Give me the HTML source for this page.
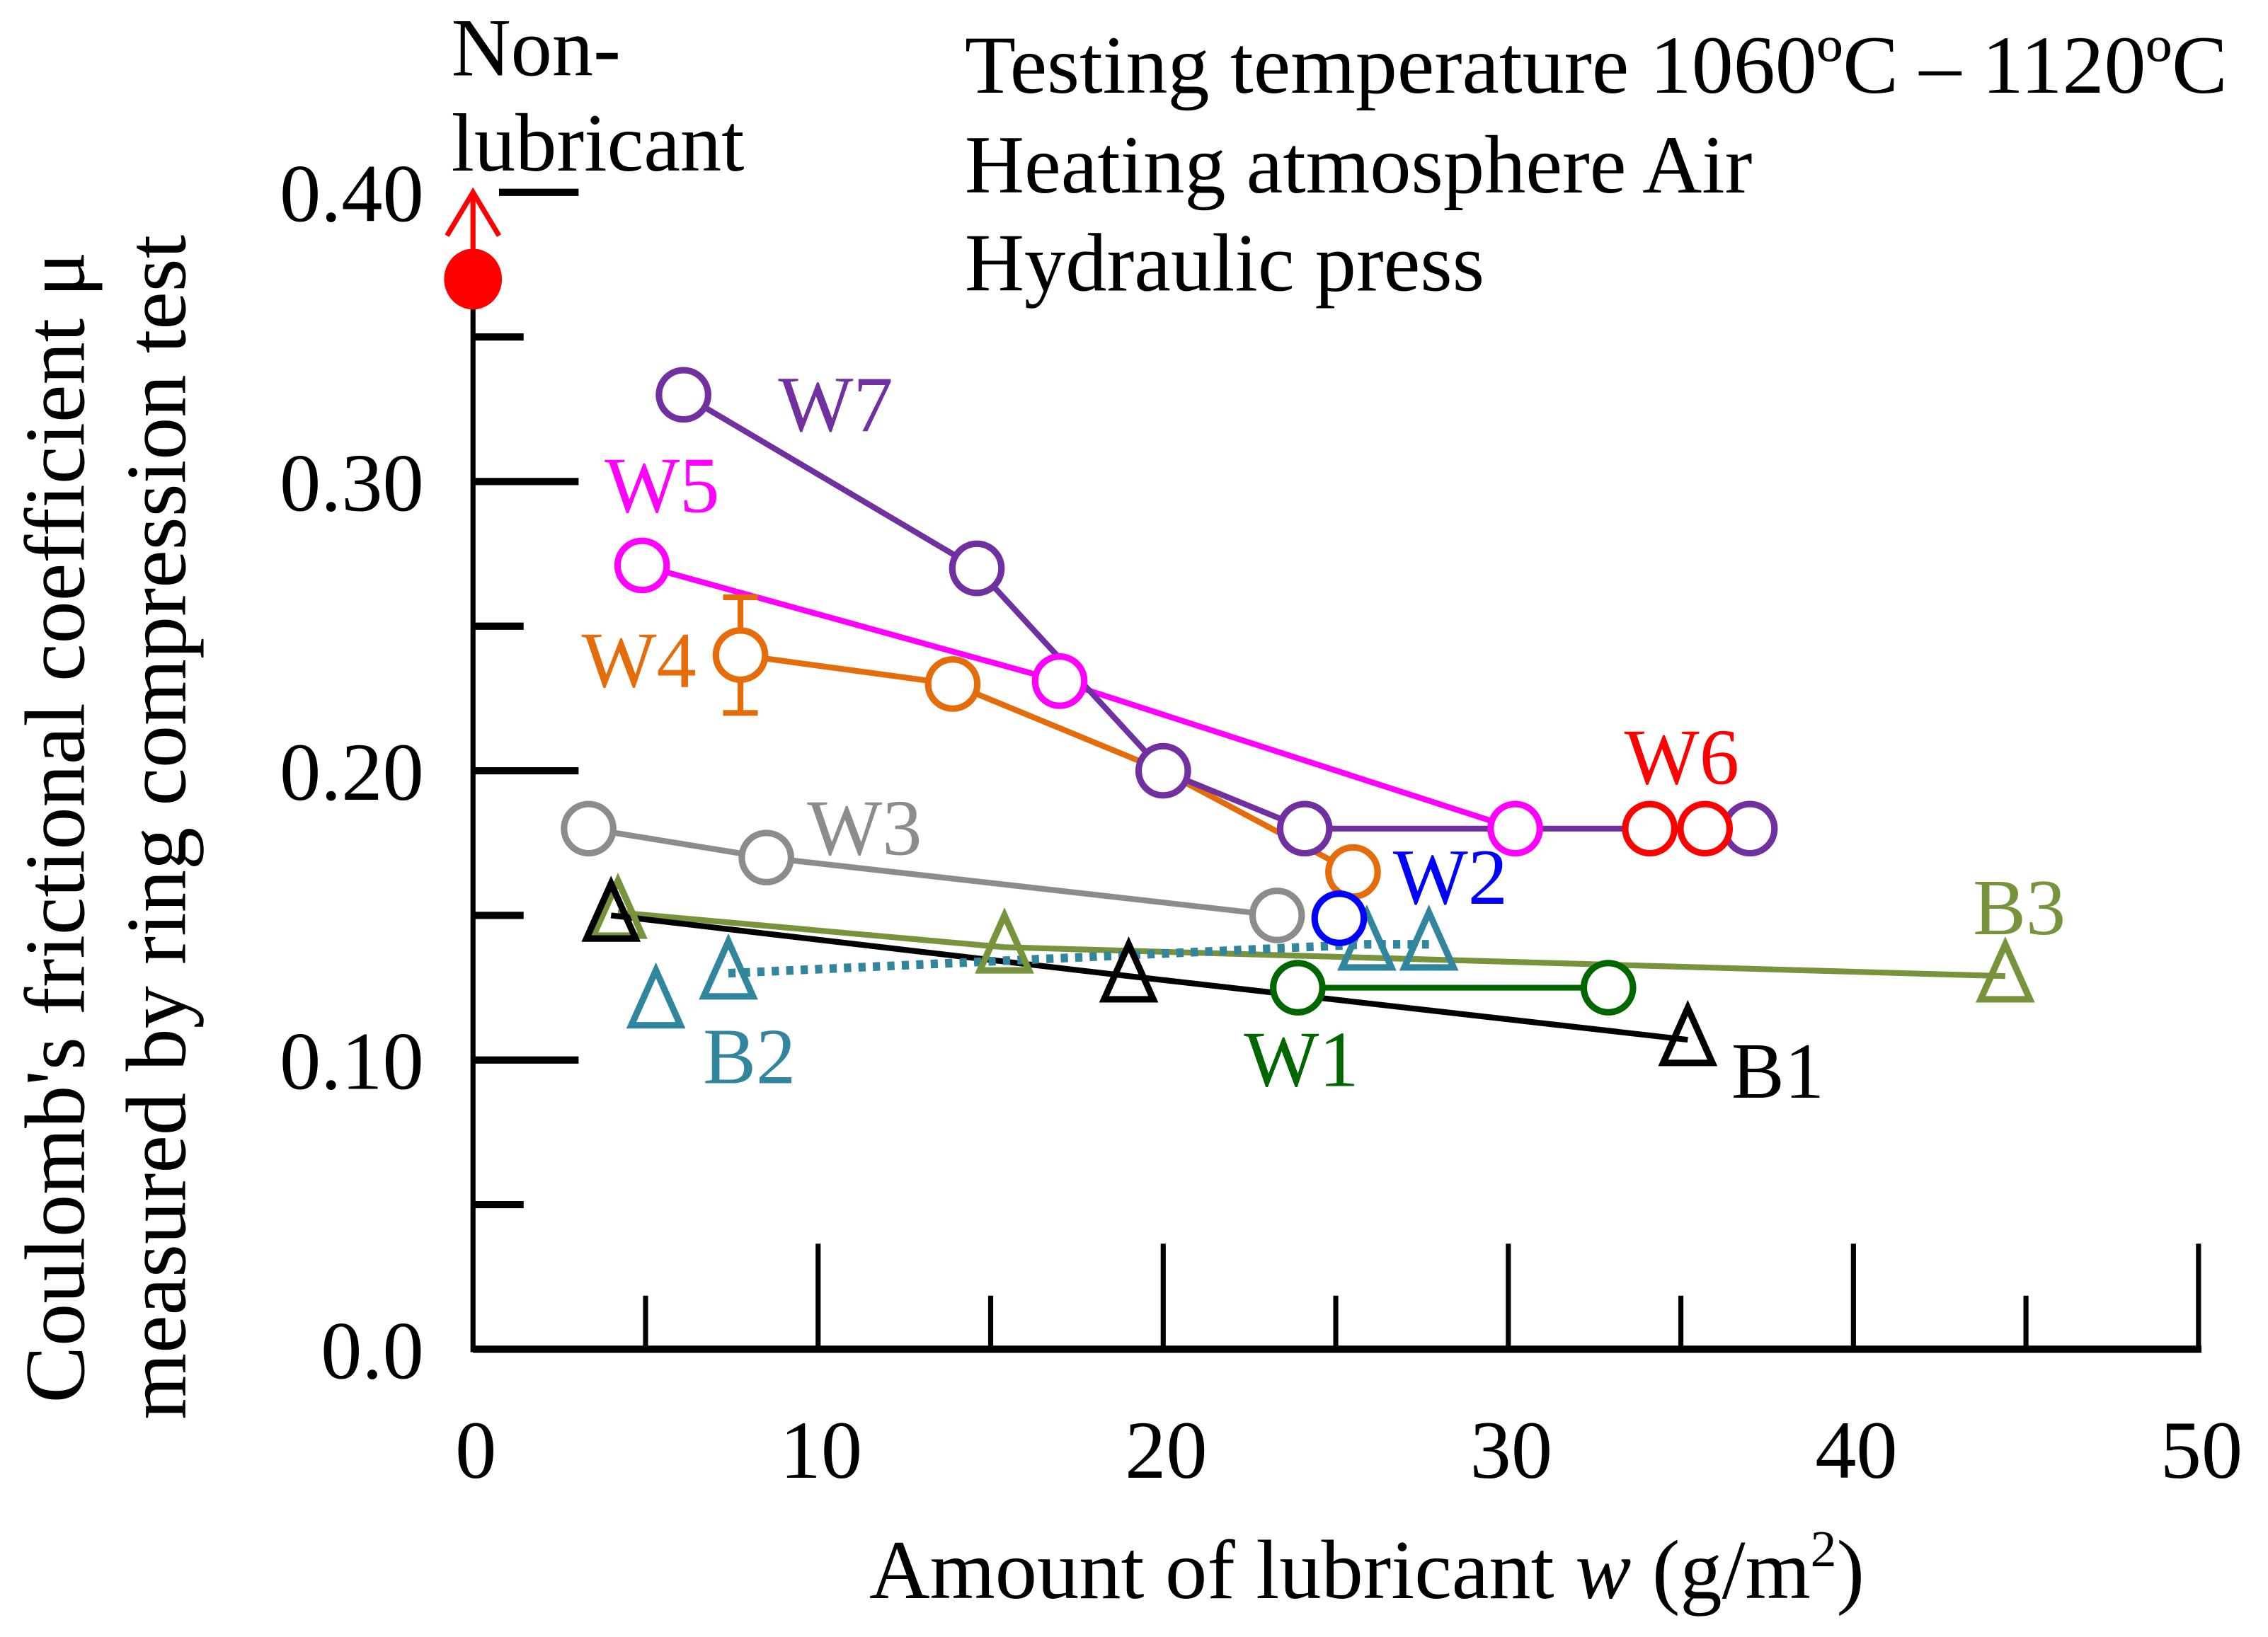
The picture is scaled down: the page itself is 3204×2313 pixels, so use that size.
<!DOCTYPE html>
<html><head><meta charset="utf-8"><style>
html,body{margin:0;padding:0;background:#fff;}
svg{display:block;}
text{font-family:"Liberation Serif",serif;}
</style></head><body>
<svg id="chart" width="3204" height="2313" viewBox="0 0 1568 1132" xmlns="http://www.w3.org/2000/svg">
<g id="axes"></g>
<g id="marks"></g>
<g font-size="57" fill="#000">
<text x="667" y="64" textLength="873" lengthAdjust="spacingAndGlyphs">Testing temperature 1060ºC – 1120ºC</text>
<text x="667" y="133">Heating atmosphere  Air</text>
<text x="667" y="201">Hydraulic press</text>
</g>
<text x="312" y="52" font-size="57">Non-</text>
<text x="312" y="118" font-size="57">lubricant</text>
<text x="945" y="1105" font-size="58" text-anchor="middle">Amount of lubricant <tspan font-style="italic">w</tspan> (g/m<tspan font-size="36" dy="-22">2</tspan><tspan dy="22">)</tspan></text>
<g transform="translate(58,572) rotate(-90)" font-size="59">
<text x="0" y="0" text-anchor="middle">Coulomb's frictional coefficient  μ</text>
<text x="0" y="70" text-anchor="middle">measured by ring compression test</text>
</g>
</svg>
<script>
const xTicks=[0,10,20,30,40,50];
const xMinor=[5,15,25,35,45];
const yTicks=[0.0,0.10,0.20,0.30,0.40];
const yTickLabels=["0.0","0.10","0.20","0.30","0.40"];
const yMinor=[0.05,0.15,0.25,0.35];
const seriesNames=["W7","W5","W4","W6","W3","W2","B3","B1","B2","W1"];
const W7x=[6.1,14.6,20.0,24.1,37.0], W7y=[0.33,0.27,0.20,0.18,0.18];
const W5x=[4.9,17.0,30.2], W5y=[0.271,0.231,0.18];
const W4x=[7.75,13.9,20.0,25.5], W4y=[0.24,0.23,0.20,0.165];
const W4err=[0.02];
const W6x=[34.1,35.7], W6y=[0.18,0.18];
const W3x=[3.35,8.5,23.3], W3y=[0.18,0.17,0.15];
const W2x=[25.1], W2y=[0.149];
const B3x=[4.2,15.4,44.4], B3y=[0.151,0.139,0.129];
const B1x=[4.0,19.0,35.2], B1y=[0.15,0.129,0.107];
const B2x=[5.3,7.4,25.9,27.7], B2y=[0.12,0.13,0.14,0.14];
const W1x=[23.9,32.9], W1y=[0.125,0.125];
const nonLubX=[0], nonLubY=[0.37];

const X=v=>327+v*23.86, Y=v=>933-v*2000;
const NS="http://www.w3.org/2000/svg";
const axes=document.getElementById('axes'), marks=document.getElementById('marks');
function mk(tag,attrs,parent){const e=document.createElementNS(NS,tag);for(const k in attrs)e.setAttribute(k,attrs[k]);parent.appendChild(e);return e;}

let e=mk('line',{x1:327,y1:933,x2:1522,y2:933,stroke:'#000','stroke-width':5},axes);


e=mk('line',{x1:327,y1:935,x2:327,y2:205,stroke:'#000','stroke-width':3.5},axes);


xTicks.forEach(t=>{
  if(t>0){const l=mk('line',{x1:X(t),y1:933,x2:X(t),y2:860,stroke:'#000','stroke-width':3.5},axes);
  
  }
  const tx=mk('text',{x:X(t)+2,y:1022,'font-size':57,'text-anchor':'middle'},axes);tx.textContent=t;
  
  
});
xMinor.forEach(t=>{const l=mk('line',{x1:X(t),y1:933,x2:X(t),y2:896,stroke:'#000','stroke-width':3.5},axes);
  
  });
yTicks.forEach((t,i)=>{
  if(t>0){const l=mk('line',{x1:t>=0.4?345:327,y1:Y(t),x2:400,y2:Y(t),stroke:'#000','stroke-width':5},axes);
  
  }
  const tx=mk('text',{x:293,y:Y(t)+20,'font-size':57,'text-anchor':'end'},axes);tx.textContent=yTickLabels[i];
  
  
});
yMinor.forEach(t=>{const l=mk('line',{x1:327,y1:Y(t),x2:362,y2:Y(t),stroke:'#000','stroke-width':5},axes);
  
  });

function line(xs,ys,color,name,dash){
  const p=mk('polyline',{points:xs.map((x,i)=>X(x)+','+Y(ys[i])).join(' '),fill:'none',stroke:color,'stroke-width':dash?6:4,'stroke-dasharray':dash||'none'},marks);
  
  
}
function circles(xs,ys,color,name){xs.forEach((x,i)=>{
  const c=mk('circle',{cx:X(x),cy:Y(ys[i]),r:17,fill:'#fff',stroke:color,'stroke-width':4.5},marks);
  
  });}
function tris(xs,ys,color,name){xs.forEach((x,i)=>{
  const cx=X(x),cy=Y(ys[i]);
  const t=mk('polygon',{points:`${cx},${cy-22} ${cx-17},${cy+16} ${cx+17},${cy+16}`,fill:'none',stroke:color,'stroke-width':4.5},marks);
  
  });}
function label(txt,x,y,color){const t=mk('text',{x:x,y:y,'font-size':55,fill:color},marks);t.textContent=txt;
  
  }

const C={W7:'#7030a0',W5:'#ff00ff',W4:'#e46c0a',W6:'#ff0000',W3:'#8c8c8c',W2:'#0000ff',B3:'#77933c',B1:'#000000',B2:'#31859c',W1:'#006600'};

line(W3x,W3y,C.W3,'w3-line');
line(B3x,B3y,C.B3,'b3-line');
line(B1x,B1y,C.B1,'b1-line');
line(B2x.slice(1),B2y.slice(1),C.B2,'b2-line','5,5');
line(W1x,W1y,C.W1,'w1-line');
line(W4x,W4y,C.W4,'w4-line');
line(W5x,W5y,C.W5,'w5-line');
line(W7x,W7y,C.W7,'w7-line');
e=mk('path',{d:`M${X(W4x[0])},${Y(W4y[0]+W4err[0])}V${Y(W4y[0]-W4err[0])}M${X(W4x[0])-12},${Y(W4y[0]+W4err[0])}h24M${X(W4x[0])-12},${Y(W4y[0]-W4err[0])}h24`,stroke:C.W4,'stroke-width':4,fill:'none'},marks);



circles(W3x,W3y,C.W3,'w3-point');
tris(B3x,B3y,C.B3,'b3-point');
tris(B1x,B1y,C.B1,'b1-point');
tris(B2x,B2y,C.B2,'b2-point');
circles(W1x,W1y,C.W1,'w1-point');
circles(W4x.filter((x,i)=>i!==2),W4y.filter((y,i)=>i!==2),C.W4,'w4-point');
circles(W7x,W7y,C.W7,'w7-point');
circles(W5x,W5y,C.W5,'w5-point');
circles(W6x,W6y,C.W6,'w6-point');
circles(W2x,W2y,C.W2,'w2-point');

e=mk('line',{x1:X(nonLubX[0]),y1:Y(nonLubY[0]),x2:X(nonLubX[0]),y2:Y(0.4),stroke:'#ff0000','stroke-width':3.5},marks);


e=mk('path',{d:`M${X(0)-18},${Y(0.4)+30}L${X(0)},${Y(0.4)}L${X(0)+18},${Y(0.4)+30}`,stroke:'#ff0000','stroke-width':3.5,fill:'none'},marks);


e=mk('ellipse',{cx:X(nonLubX[0]),cy:Y(nonLubY[0]),rx:20,ry:21,fill:'#ff0000'},marks);



label('W7',538,298,C.W7);
label('W5',418,354,C.W5);
label('W4',402,475,C.W4);
label('W6',1123,542,C.W6);
label('W3',558,591,C.W3);
label('W2',963,625,C.W2);
label('B3',1364,646,C.B3);
label('B2',486,749,C.B2);
label('W1',860,751,C.W1);
label('B1',1197,759,C.B1);
</script>
</body></html>
